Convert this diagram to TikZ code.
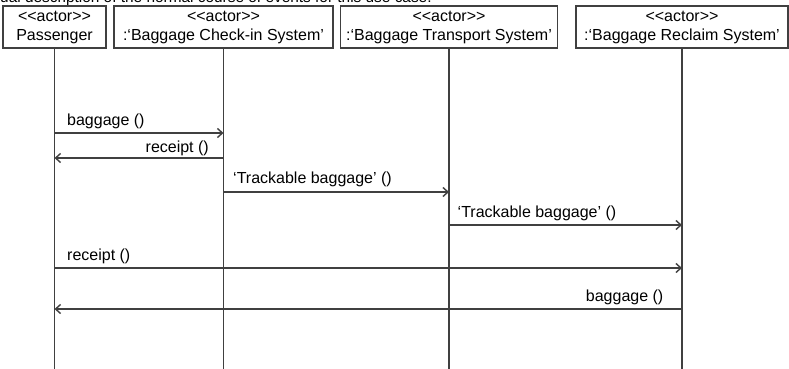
\documentclass[tikz,border=0pt]{standalone}
\usepackage{fontspec}
\setmainfont{Liberation Sans}
\usetikzlibrary{arrows.meta, positioning}

\begin{document}
\begin{tikzpicture}[
  x=1pt, y=-1pt,
  font=\fontsize{16}{19}\selectfont,
  actor/.style={draw=black!75, line width=1.6pt, inner sep=0pt, minimum height=42pt, align=center},
  life/.style={draw=black!75, line width=1.3pt},
  msg/.style={-{Straight Barb[length=5pt, width=9pt]}, draw=black!75, line width=1.4pt},
  lbl/.style={inner sep=0pt},
]
  \useasboundingbox (0,0) rectangle (789,369);
  \clip (0,0) rectangle (789,369);
  \node[anchor=base west, inner sep=0pt, font=\fontsize{15.4}{18}\selectfont] (cap) at (0,3)
    {ual description of the normal course of events for this use case.};

  \node[actor, minimum width=103pt] (pas) at (54.5,27) {<{}<actor>{}>\\Passenger};
  \node[actor, minimum width=219pt] (chk) at (223.5,27) {<{}<actor>{}>\\:`Baggage Check-in System'};
  \node[actor, minimum width=217pt] (trn) at (449,27) {<{}<actor>{}>\\:`Baggage Transport System'};
  \node[actor, minimum width=212pt] (rcl) at (682,27) {<{}<actor>{}>\\:`Baggage Reclaim System'};

  \coordinate (end) at (0,369);
  \draw[life] (pas.south) -- (pas |- end);
  \draw[life] (chk.south) -- (chk |- end);
  \draw[life] (trn.south) -- (trn |- end);
  \draw[life] (rcl.south) -- (rcl |- end);

  \coordinate (m1) at (0,133);
  \coordinate (m2) at (0,158);
  \coordinate (m3) at (0,192);
  \coordinate (m4) at (0,225);
  \coordinate (m5) at (0,268);
  \coordinate (m6) at (0,309);

  \draw[msg] (pas |- m1) -- (chk |- m1)
    node[lbl, pos=0, anchor=base west, xshift=12pt, yshift=8pt] {baggage ()};
  \draw[msg] (chk |- m2) -- (pas |- m2)
    node[lbl, pos=0, anchor=base east, xshift=-14pt, yshift=6pt] {receipt ()};
  \draw[msg] (chk |- m3) -- (trn |- m3)
    node[lbl, pos=0, anchor=base west, xshift=9pt, yshift=9pt] {`Trackable baggage' ()};
  \draw[msg] (trn |- m4) -- (rcl |- m4)
    node[lbl, pos=0, anchor=base west, xshift=8pt, yshift=8pt] {`Trackable baggage' ()};
  \draw[msg] (pas |- m5) -- (rcl |- m5)
    node[lbl, pos=0, anchor=base west, xshift=12pt, yshift=8pt] {receipt ()};
  \draw[msg] (rcl |- m6) -- (pas |- m6)
    node[lbl, pos=0, anchor=base east, xshift=-18pt, yshift=8pt] {baggage ()};
\end{tikzpicture}
\end{document}
